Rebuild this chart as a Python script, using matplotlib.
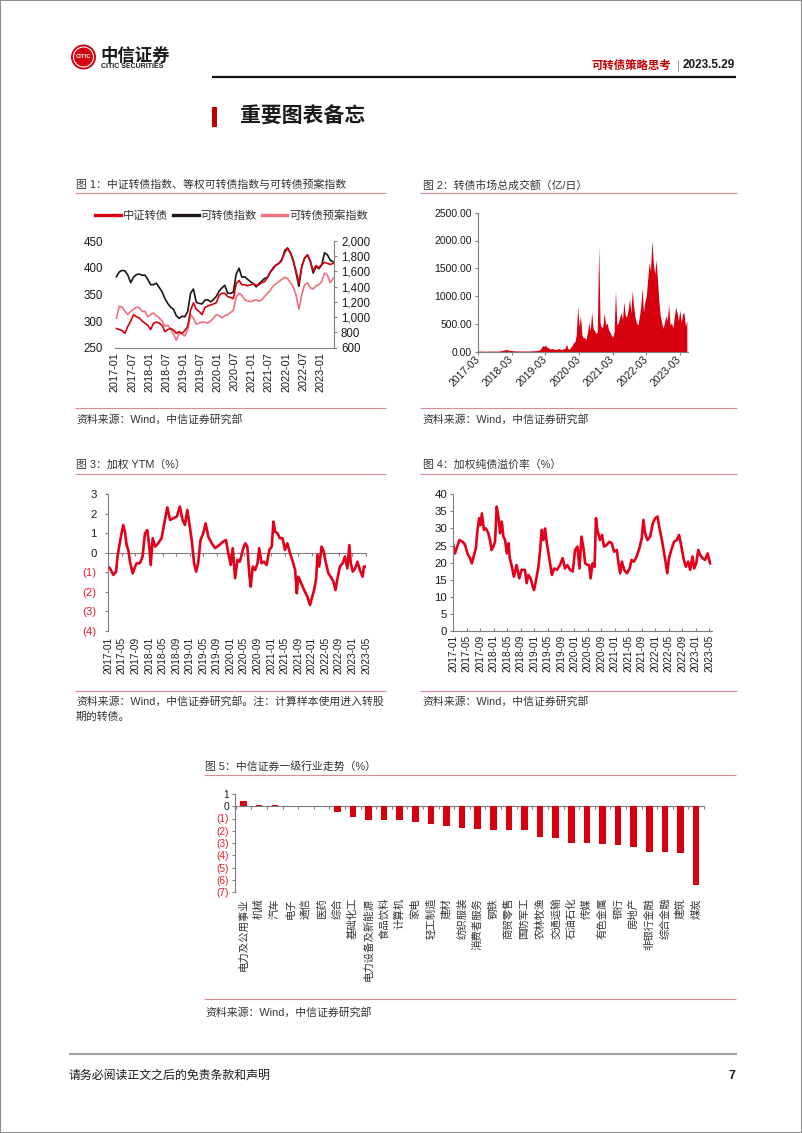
import matplotlib
matplotlib.use('Agg')
import matplotlib.pyplot as plt
from matplotlib.lines import Line2D
from matplotlib.patches import Ellipse, Rectangle
import numpy as np

plt.rcParams['font.family'] = ['Liberation Sans', 'Noto Sans CJK SC']
plt.rcParams['axes.unicode_minus'] = False

# ---------------- data ----------------
# Fig 1 (monthly, 2017-01 .. 2023-05)
fig1_ticklabels = ['2017-01', '2017-07', '2018-01', '2018-07', '2019-01', '2019-07', '2020-01',
                   '2020-07', '2021-01', '2021-07', '2022-01', '2022-07', '2023-01']
fig1_legend = ['中证转债', '可转债指数', '可转债预案指数']
fig1_csi = [286, 284, 282, 277, 290, 300, 312, 308, 306, 300,
            296, 292, 284, 296, 298, 296, 292, 280, 284, 286,
            283, 277, 280, 277, 282, 290, 320, 334, 322, 318,
            312, 325, 328, 330, 332, 334, 348, 352, 352, 346,
            344, 342, 370, 376, 368, 368, 366, 368, 370, 367,
            368, 372, 374, 382, 392, 398, 405, 408, 416, 428,
            436, 428, 412, 394, 372, 402, 418, 424, 412, 394,
            404, 400, 406, 410, 408, 406, 408]
fig1_equal = [1531, 1594, 1615, 1608, 1552, 1454, 1524, 1559, 1566, 1552,
              1552, 1496, 1426, 1426, 1447, 1391, 1335, 1244, 1181, 1132,
              1104, 1020, 985, 1013, 1006, 1076, 1314, 1370, 1195, 1181,
              1174, 1223, 1230, 1202, 1230, 1272, 1342, 1384, 1419, 1314,
              1314, 1328, 1566, 1643, 1524, 1531, 1496, 1468, 1440, 1398,
              1440, 1475, 1510, 1524, 1594, 1650, 1685, 1706, 1748, 1874,
              1909, 1846, 1748, 1580, 1405, 1664, 1776, 1818, 1734, 1580,
              1664, 1636, 1685, 1846, 1818, 1748, 1727]
fig1_plan = [985, 1146, 1132, 1076, 1034, 1076, 1104, 1132, 1125, 1076,
             1076, 1006, 1034, 1055, 1020, 992, 950, 880, 894, 845,
             782, 698, 789, 782, 754, 838, 1034, 985, 908, 922,
             936, 936, 922, 950, 985, 1034, 1020, 992, 1020, 1034,
             1062, 1090, 1265, 1314, 1286, 1230, 1216, 1202, 1216, 1230,
             1209, 1230, 1272, 1314, 1356, 1412, 1440, 1468, 1496, 1524,
             1510, 1454, 1398, 1286, 1104, 1300, 1426, 1454, 1384, 1370,
             1412, 1426, 1468, 1580, 1552, 1454, 1510]

# Fig 2 (half-monthly, 2017-03 .. 2023-05), 亿元/日
fig2_ticklabels = ['2017-03', '2018-03', '2019-03', '2020-03', '2021-03', '2022-03', '2023-03']
fig2_turnover = [12, 10, 10, 12, 8, 10, 8, 10, 12, 10,
                 10, 12, 12, 10, 10, 14, 18, 22, 28, 35,
                 40, 32, 28, 22, 20, 18, 16, 15, 14, 15,
                 12, 14, 14, 12, 12, 14, 12, 15, 14, 16,
                 18, 20, 22, 28, 35, 70, 110, 95, 120, 80,
                 70, 55, 50, 60, 45, 40, 45, 55, 50, 40,
                 45, 55, 60, 140, 55, 45, 80, 110, 160, 180,
                 300, 820, 450, 650, 300, 250, 250, 220, 350, 520,
                 380, 720, 420, 380, 330, 350, 1900, 520, 430, 460,
                 700, 480, 520, 400, 350, 300, 260, 350, 1100, 480,
                 520, 620, 700, 580, 900, 650, 620, 750, 950, 700,
                 1100, 800, 620, 520, 480, 620, 800, 1150, 720, 900,
                 1000, 1300, 1600, 1450, 2000, 1600, 1400, 1650, 1300, 900,
                 650, 520, 420, 520, 650, 560, 850, 480, 520, 430,
                 620, 800, 700, 560, 750, 520, 700, 680, 460, 560]

# Fig 3 / Fig 4 (time in months since 2017-01)
fig34_ticklabels = ['2017-01', '2017-05', '2017-09', '2018-01', '2018-05', '2018-09', '2019-01',
                    '2019-05', '2019-09', '2020-01', '2020-05', '2020-09', '2021-01', '2021-05',
                    '2021-09', '2022-01', '2022-05', '2022-09', '2023-01', '2023-05']
fig3_month = [0, 0.5, 1.5, 2.3, 2.7, 3.2, 3.9, 4.4, 4.9, 5.4,
              5.9, 6.4, 7.2, 7.9, 8.4, 9.3, 10.1, 10.8, 11.5, 12.1,
              12.5, 13.1, 13.8, 14.7, 15.7, 16.7, 17.4, 18.2, 19.2, 20.2,
              21.1, 21.9, 22.6, 23.3, 23.9, 24.6, 25.3, 25.9, 26.5, 27.2,
              28, 28.7, 29.5, 30.5, 31.5, 32.7, 33.9, 34.7, 35.4, 36.1,
              36.7, 37.4, 38.1, 38.8, 39.8, 40.4, 41, 41.6, 42, 42.6,
              43.3, 44, 44.5, 45.2, 45.9, 46.7, 47.5, 48.2, 48.7, 49.2,
              49.9, 50.6, 51.4, 52.1, 52.8, 53.6, 54.4, 55.1, 55.6, 56,
              56.5, 57.3, 58, 58.7, 59.5, 60, 60.7, 61.3, 61.7, 62.2,
              62.9, 63.4, 64.2, 64.9, 65.6, 66.4, 67, 67.6, 68.3, 69.1,
              69.8, 70.5, 71.1, 71.5, 72.1, 72.8, 73.5, 74.2, 75, 75.4, 76]
fig3_ytm = [-0.7, -0.79, -1.13, -0.96, -0.19, 0.32, 1.0, 1.43, 1.09, 0.4,
            0.15, -0.45, -1.05, -0.7, -0.53, -0.53, -0.19, 1.0, 1.17, 0.32,
            -0.62, 0.75, 0.32, 0.49, 0.75, 1.69, 2.33, 1.69, 1.77, 1.86,
            2.37, 1.69, 1.43, 2.2, 1.51, 0.66, -0.53, -0.96, -0.53, 0.66,
            1.0, 1.51, 0.83, 0.49, 0.24, 0.4, 0.58, 0.66, -0.02, -0.62,
            0.24, -1.3, -0.36, -0.45, 0.24, 0.49, 0.32, -1.13, -1.73, -0.7,
            -0.88, -0.53, 0.24, -0.53, -0.45, -0.62, 0.15, 0.32, 1.6, 1.09,
            1.0, 0.75, 0.75, 0.15, 0.49, -0.02, -0.45, -0.88, -2.07, -1.22,
            -1.39, -1.73, -1.99, -2.24, -2.67, -2.33, -1.9, -1.3, -0.1, -0.7,
            0.32, 0.15, -0.53, -1.05, -1.22, -1.47, -1.9, -1.3, -0.7, -0.53,
            -0.19, -0.79, 0.4, -0.53, -0.96, -0.79, -0.45, -0.88, -1.22, -0.7, -0.7]

fig4_month = [0, 0.5, 1, 1.8, 2.8, 3.5, 4.2, 5, 5.5, 5.9,
              6.7, 7.2, 7.7, 8.1, 8.5, 9.1, 9.7, 10.4, 10.9, 11.4,
              11.9, 12.4, 12.9, 13.4, 13.9, 14.4, 14.9, 15.4, 15.9, 16.4,
              16.8, 17.3, 18, 18.8, 19.6, 20.3, 21.3, 21.8, 22.3, 23,
              23.6, 24, 24.6, 25.3, 25.8, 26.3, 26.8, 27.3, 27.8, 28.6,
              29.3, 30, 30.8, 31.7, 32.5, 33.2, 33.9, 34.7, 35.5, 36.2,
              36.9, 37.5, 38.1, 38.7, 39.2, 39.9, 40.4, 40.8, 41.4, 42,
              42.4, 42.8, 43.6, 44.2, 44.8, 45.6, 46.4, 47.1, 47.8, 48.6,
              49.1, 49.6, 50.1, 50.8, 51.6, 52.4, 53, 53.7, 54.5, 55.3,
              56, 56.5, 57, 57.7, 58.5, 59.3, 60, 60.7, 61.3, 62,
              62.5, 63, 63.6, 64.1, 64.8, 65.6, 66.4, 67.1, 67.8, 68.4,
              69.1, 69.8, 70.4, 71.1, 71.6, 72.2, 72.8, 73.4, 74.1, 74.8,
              75.6, 76.3]
fig4_premium = [25.2, 22.7, 24.2, 26.6, 26.1, 25.2, 22.7, 21.3, 19.8, 21.3,
                24.2, 29.6, 33, 31, 34.4, 29.6, 30, 28.6, 26.6, 23.7,
                24.7, 26.1, 36.4, 33.5, 28.6, 32, 27.6, 26.6, 22.7, 25.7,
                21.3, 19.3, 15.9, 19.3, 15.4, 17.9, 17.9, 14, 16.4, 15.4,
                13, 12, 14.9, 18.8, 23.7, 29.6, 26.6, 30, 25.7, 20.8,
                16.4, 18.3, 17.9, 19.3, 21.3, 18.3, 19.3, 17.9, 17.4, 23.7,
                24.7, 18.3, 27.6, 24.2, 19.8, 19.3, 19.3, 15.4, 19.8, 18.8,
                33, 29.6, 26.6, 28.1, 24.7, 25.2, 26.1, 25.7, 23.2, 23.7,
                19.8, 16.9, 20.3, 17.9, 16.9, 18.3, 20.8, 20.3, 21.8, 24.2,
                27.1, 32.5, 28.6, 26.6, 27.6, 31.5, 33, 33.5, 30, 26.6,
                23.7, 20.8, 16.9, 21.3, 23.7, 26.1, 26.6, 28.1, 24.7, 21.3,
                18.8, 20.3, 17.9, 21.8, 18.3, 19.8, 23.7, 22.2, 21.3, 20.8,
                22.7, 19.8]

# Fig 5
fig5_industries = ['电力及公用事业', '机械', '汽车', '电子', '通信', '医药', '综合', '基础化工',
                   '电力设备及新能源', '食品饮料', '计算机', '家电', '轻工制造', '建材', '纺织服装',
                   '消费者服务', '钢铁', '商贸零售', '国防军工', '农林牧渔', '交通运输', '石油石化',
                   '传媒', '有色金属', '银行', '房地产', '非银行金融', '综合金融', '建筑', '煤炭']
fig5_change = [0.42, 0.12, 0.10, 0.05, 0.02, -0.01, -0.48, -0.86, -1.12, -1.14,
               -1.16, -1.32, -1.42, -1.58, -1.74, -1.83, -1.94, -1.95, -1.96, -2.47,
               -2.62, -2.98, -3.0, -3.05, -3.14, -3.35, -3.72, -3.76, -3.78, -6.45]

# ---------------- styles ----------------
RED = '#D7000F'
LRED = '#E2001A'
BLACK = '#1E1414'
PINK = '#F3707E'
RULE = '#DA8C93'
TXT = '#333333'
NEG = '#E0202E'
SPINE = '#7F7F7F'

W, H = 802, 1133
fig = plt.figure(figsize=(W / 100, H / 100), dpi=100)


def fx(x):
    return x / W


def fy(y):
    return 1 - y / H


def axes_px(x0, y0, x1, y1):
    return fig.add_axes([x0 / W, 1 - y1 / H, (x1 - x0) / W, (y1 - y0) / H])


def rule(x0, x1, y, color=RULE, lw=0.8):
    fig.add_artist(Line2D([fx(x0), fx(x1)], [fy(y), fy(y)], color=color, lw=lw,
                          transform=fig.transFigure, solid_capstyle='butt'))


def put(x, y, s, **kw):
    kw.setdefault('va', 'center')
    fig.text(fx(x), fy(y), s, **kw)


def paren_labels(vals):
    return [('(%d)' % -v) if v < 0 else ('%d' % v) for v in vals]


def color_neg(ax, vals):
    for lab, v in zip(ax.get_yticklabels(), vals):
        lab.set_color(NEG if v < 0 else '#1A1A1A')


# ---------------- page frame / header / footer ----------------
fig.add_artist(Rectangle((0, 0), 1, 1, transform=fig.transFigure, fill=False,
                         edgecolor='#8C8C8C', lw=1.5))
fig.add_artist(Ellipse((fx(83.5), fy(57)), 25 / W, 25 / H, transform=fig.transFigure,
                       facecolor='#D7000F', edgecolor='none'))
fig.add_artist(Ellipse((fx(83.5), fy(57)), 20 / W, 20 / H, transform=fig.transFigure,
                       facecolor='none', edgecolor='white', lw=0.8))
put(83.5, 57, 'CITIC', ha='center', fontsize=4.2, fontweight='bold', color='white')
put(100, 55.5, '中信证券', ha='left', fontsize=12.5, fontweight='bold', color='#1A1A1A')
put(101, 66.5, 'CITIC SECURITIES', ha='left', fontsize=5.0, fontweight='bold', color='#1A1A1A')

put(735, 65.5, '2023.5.29', ha='right', fontsize=8.5, fontweight='bold', color='#1A1A1A')
put(678, 65.5, '|', ha='center', fontsize=8.5, color='#A0A0A0')
put(671, 65.5, '可转债策略思考', ha='right', fontsize=8.2, fontweight='bold', color='#C00000')
rule(212, 736, 76.7, color='#111111', lw=1.6)

fig.add_artist(Rectangle((fx(212), fy(127)), 5 / W, 20 / H, transform=fig.transFigure,
                         facecolor='#C00000', edgecolor='none'))
put(240, 117, '重要图表备忘', ha='left', fontsize=15, fontweight='bold', color='#1A1A1A')

rule(69, 737, 1054, color='#A6A6A6', lw=1.6)
put(69, 1076, '请务必阅读正文之后的免责条款和声明', ha='left', fontsize=8.6, color='#1A1A1A')
put(735, 1076, '7', ha='right', fontsize=9, fontweight='bold', color='#1A1A1A')

# ---------------- section frames ----------------
SRC = '资料来源：Wind，中信证券研究部'
put(76, 185, '图 1：中证转债指数、等权可转债指数与可转债预案指数', ha='left', fontsize=7.8, color=TXT)
rule(75, 386, 192.7)
rule(75, 386, 408.3)
put(76, 419, SRC, ha='left', fontsize=7.8, color=TXT)

put(422.7, 185, '图 2：转债市场总成交额（亿/日）', ha='left', fontsize=7.8, color=TXT)
rule(420, 737, 192.7)
rule(420, 737, 408.3)
put(422.7, 419, SRC, ha='left', fontsize=7.8, color=TXT)

put(76, 465, '图 3：加权 YTM（%）', ha='left', fontsize=7.8, color=TXT)
rule(75, 386, 474)
rule(75, 386, 690.7)
put(76, 701.5, SRC + '。注：计算样本使用进入转股', ha='left', fontsize=7.8, color=TXT)
put(76, 717, '期的转债。', ha='left', fontsize=7.8, color=TXT)

put(422.7, 465, '图 4：加权纯债溢价率（%）', ha='left', fontsize=7.8, color=TXT)
rule(420, 737, 474)
rule(420, 737, 690.7)
put(422.7, 701.5, SRC, ha='left', fontsize=7.8, color=TXT)

put(205, 766, '图 5：中信证券一级行业走势（%）', ha='left', fontsize=7.8, color=TXT)
rule(204, 736, 775)
rule(204, 736, 999)
put(205, 1012.5, SRC, ha='left', fontsize=7.8, color=TXT)

# ---------------- Fig 1 ----------------
ax1 = axes_px(115, 241, 334, 347.7)
ax2 = ax1.twinx()
m1 = np.arange(len(fig1_csi)) + 0.5
ax2.plot(m1, fig1_plan, color=PINK, lw=1.2)
ax2.plot(m1, fig1_equal, color=BLACK, lw=1.2)
ax1.plot(m1, fig1_csi, color=RED, lw=1.2)
ax1.set_zorder(ax2.get_zorder() + 1)
ax1.patch.set_visible(False)
ax1.set_xlim(0, 76.8)
ax1.set_ylim(250, 450)
ax2.set_ylim(600, 2000)
for a in (ax1, ax2):
    a.spines['top'].set_visible(False)
    a.spines['left'].set_visible(False)
ax1.spines['right'].set_visible(False)
ax2.spines['bottom'].set_visible(False)
ax2.spines['right'].set_color(SPINE)
ax1.spines['bottom'].set_color(SPINE)
ax1.set_yticks([250, 300, 350, 400, 450])
ax1.tick_params(axis='y', length=0, pad=8.5, labelsize=8.3, labelcolor='#1A1A1A')
r_ticks = list(range(600, 2001, 200))
ax2.set_yticks(r_ticks)
ax2.set_yticklabels(['{:,}'.format(v) for v in r_ticks])
ax2.tick_params(axis='y', length=2.5, pad=2.5, labelsize=8.3, color=SPINE, labelcolor='#1A1A1A')
ax1.set_xticks(np.arange(len(fig1_ticklabels)) * 6)
ax1.set_xticklabels(fig1_ticklabels, rotation=90)
ax1.tick_params(axis='x', length=0, pad=3, labelsize=7.8, labelcolor='#1A1A1A')
handles = [Line2D([], [], color=c, lw=2.4) for c in (RED, BLACK, PINK)]
leg = fig.legend(handles, fig1_legend, loc='center left', bbox_to_anchor=(fx(95), fy(215.7)),
                 ncol=3, frameon=False, fontsize=8.1, handlelength=2.3, handletextpad=0.2,
                 columnspacing=0.4, borderpad=0, borderaxespad=0)
for t in leg.get_texts():
    t.set_color(TXT)

# ---------------- Fig 2 ----------------
ax = axes_px(478.3, 212.7, 687.7, 351.7)
m2 = np.arange(len(fig2_turnover)) * 0.5
ax.fill_between(m2, 0, fig2_turnover, color=RED, lw=0)
ax.set_xlim(0, 74.8)
ax.set_ylim(0, 2500)
ax.spines['top'].set_visible(False)
ax.spines['right'].set_visible(False)
ax.spines['left'].set_color(SPINE)
ax.spines['bottom'].set_color(SPINE)
y2 = [0, 500, 1000, 1500, 2000, 2500]
ax.set_yticks(y2)
ax.set_yticklabels(['%.2f' % v for v in y2])
ax.tick_params(axis='y', length=2.5, pad=2, labelsize=7.5, color=SPINE, labelcolor='#1A1A1A')
ax.set_xticks(np.arange(len(fig2_ticklabels)) * 12)
ax.set_xticklabels(fig2_ticklabels, rotation=45, ha='right', va='center', rotation_mode='anchor')
ax.tick_params(axis='x', length=2.5, pad=2, labelsize=7.5, color=SPINE, labelcolor='#1A1A1A')

# ---------------- Fig 3 ----------------
ax = axes_px(108.3, 494.3, 366, 631)
n3 = min(len(fig3_month), len(fig3_ytm))
ax.plot(fig3_month[:n3], fig3_ytm[:n3], color=LRED, lw=1.9)
ax.set_xlim(0, 76)
ax.set_ylim(-4, 3)
for s in ('top', 'right', 'bottom'):
    ax.spines[s].set_visible(False)
ax.spines['left'].set_color(SPINE)
y3 = list(range(-4, 4))
ax.set_yticks(y3)
ax.set_yticklabels(paren_labels(y3))
color_neg(ax, y3)
ax.tick_params(axis='y', length=2.5, pad=6, labelsize=8.2, color=SPINE)
xt = np.arange(len(fig34_ticklabels)) * 4
ax.set_xticks(xt)
ax.set_xticklabels(fig34_ticklabels, rotation=90)
ax.tick_params(axis='x', length=0, pad=4, labelsize=7.3, labelcolor='#1A1A1A')
sec = ax.secondary_xaxis(4 / 7)
sec.set_xticks(xt)
sec.set_xticklabels([])
sec.tick_params(axis='x', direction='in', length=2.5, color=SPINE, labeltop=False, labelbottom=False)
for s in ('top', 'bottom'):
    sec.spines[s].set_color(SPINE)

# ---------------- Fig 4 ----------------
ax = axes_px(453.3, 494.3, 711.7, 631)
n4 = min(len(fig4_month), len(fig4_premium))
ax.plot(fig4_month[:n4], fig4_premium[:n4], color=LRED, lw=1.9)
ax.set_xlim(0, 76.8)
ax.set_ylim(0, 40)
ax.spines['top'].set_visible(False)
ax.spines['right'].set_visible(False)
ax.spines['left'].set_color(SPINE)
ax.spines['bottom'].set_color(SPINE)
ax.set_yticks(range(0, 41, 5))
ax.tick_params(axis='y', length=2.5, pad=2, labelsize=8.2, color=SPINE, labelcolor='#1A1A1A')
ax.set_xticks(xt)
ax.set_xticklabels(fig34_ticklabels, rotation=90)
ax.tick_params(axis='x', length=2, direction='in', pad=3, labelsize=7.3, color=SPINE,
               labelcolor='#1A1A1A')

# ---------------- Fig 5 ----------------
ax = axes_px(235, 794, 704, 892)
xs = np.arange(len(fig5_change))
ax.bar(xs, fig5_change, width=0.42, color=RED)
ax.set_xlim(-0.55, len(fig5_change) - 0.5)
ax.set_ylim(-7, 1)
for s in ('top', 'right', 'bottom'):
    ax.spines[s].set_visible(False)
ax.spines['left'].set_color(SPINE)
y5 = list(range(-7, 2))
ax.set_yticks(y5)
ax.set_yticklabels(paren_labels(y5))
color_neg(ax, y5)
ax.tick_params(axis='y', length=2.5, pad=2, labelsize=7.3, color=SPINE)
ax.set_xticks(xs)
ax.set_xticklabels(fig5_industries, rotation=90)
ax.tick_params(axis='x', length=0, pad=4.3, labelsize=7.5, labelcolor=TXT)
sec5 = ax.secondary_xaxis(7 / 8)
sec5.set_xticks(np.arange(len(fig5_change) + 1) - 0.5)
sec5.set_xticklabels([])
sec5.tick_params(axis='x', direction='in', length=2.5, color=SPINE, labeltop=False, labelbottom=False)
for s in ('top', 'bottom'):
    sec5.spines[s].set_color(SPINE)

fig.savefig('out.png', dpi=100)
